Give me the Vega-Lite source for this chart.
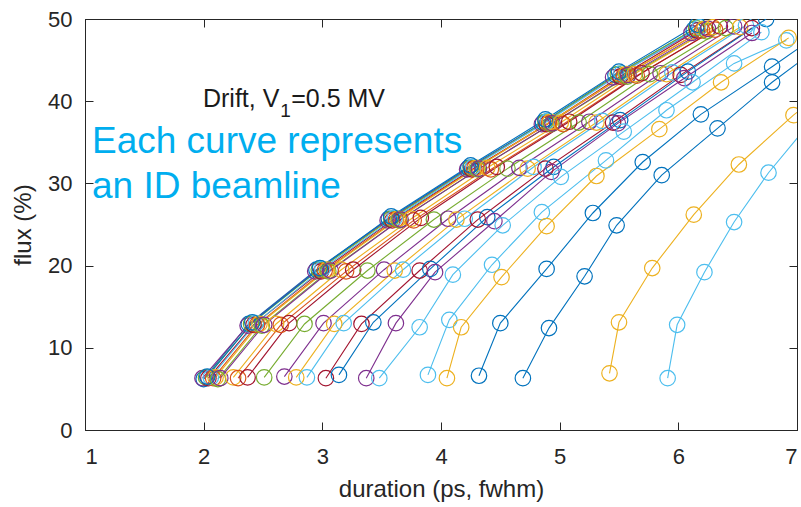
{
  "$schema": "https://vega.github.io/schema/vega-lite/v6.json",
  "width": 712,
  "height": 411,
  "autosize": {"type": "none"},
  "padding": {"left": 85, "top": 19, "right": 4, "bottom": 77},
  "background": "white",
  "config": {
    "font": "Liberation Sans",
    "view": {"stroke": "#262626", "strokeWidth": 1},
    "axis": {
      "grid": false,
      "domainColor": "#262626",
      "tickColor": "#262626",
      "labelColor": "#262626",
      "titleColor": "#262626",
      "labelFont": "Liberation Sans",
      "titleFont": "Liberation Sans",
      "labelFontSize": 22,
      "titleFontSize": 24,
      "titleFontWeight": "normal",
      "tickSize": -8,
      "tickWidth": 1
    }
  },
  "datasets": {
    "curves": [
      {"b":1,"d":2.00,"f":6.2},{"b":1,"d":2.38,"f":12.9},{"b":1,"d":2.95,"f":19.5},{"b":1,"d":3.56,"f":25.7},{"b":1,"d":4.23,"f":31.9},{"b":1,"d":4.86,"f":37.4},{"b":1,"d":5.47,"f":43.2},{"b":1,"d":6.13,"f":48.7},
      {"b":2,"d":1.99,"f":6.3},{"b":2,"d":2.37,"f":12.7},{"b":2,"d":2.94,"f":19.3},{"b":2,"d":3.55,"f":25.5},{"b":2,"d":4.22,"f":31.7},{"b":2,"d":4.85,"f":37.2},{"b":2,"d":5.45,"f":42.9},{"b":2,"d":6.11,"f":48.3},
      {"b":3,"d":2.02,"f":6.4},{"b":3,"d":2.40,"f":12.9},{"b":3,"d":2.97,"f":19.5},{"b":3,"d":3.58,"f":25.7},{"b":3,"d":4.25,"f":31.9},{"b":3,"d":4.88,"f":37.5},{"b":3,"d":5.49,"f":43.3},{"b":3,"d":6.15,"f":48.9},
      {"b":4,"d":2.04,"f":6.3},{"b":4,"d":2.42,"f":12.8},{"b":4,"d":2.99,"f":19.3},{"b":4,"d":3.59,"f":25.5},{"b":4,"d":4.26,"f":31.7},{"b":4,"d":4.89,"f":37.2},{"b":4,"d":5.51,"f":43.0},{"b":4,"d":6.16,"f":48.6},
      {"b":5,"d":2.06,"f":6.4},{"b":5,"d":2.44,"f":13.0},{"b":5,"d":3.00,"f":19.6},{"b":5,"d":3.61,"f":25.8},{"b":5,"d":4.27,"f":32.0},{"b":5,"d":4.90,"f":37.6},{"b":5,"d":5.52,"f":43.4},{"b":5,"d":6.18,"f":49.0},
      {"b":6,"d":2.08,"f":6.3},{"b":6,"d":2.45,"f":12.8},{"b":6,"d":3.02,"f":19.4},{"b":6,"d":3.62,"f":25.6},{"b":6,"d":4.28,"f":31.8},{"b":6,"d":4.91,"f":37.3},{"b":6,"d":5.54,"f":43.1},{"b":6,"d":6.20,"f":48.6},
      {"b":7,"d":2.10,"f":6.4},{"b":7,"d":2.47,"f":12.9},{"b":7,"d":3.04,"f":19.5},{"b":7,"d":3.64,"f":25.7},{"b":7,"d":4.30,"f":31.9},{"b":7,"d":4.92,"f":37.5},{"b":7,"d":5.56,"f":43.3},{"b":7,"d":6.22,"f":48.8},
      {"b":8,"d":2.03,"f":6.5},{"b":8,"d":2.41,"f":13.1},{"b":8,"d":2.98,"f":19.7},{"b":8,"d":3.58,"f":26.0},{"b":8,"d":4.25,"f":32.2},{"b":8,"d":4.88,"f":37.8},{"b":8,"d":5.50,"f":43.6},{"b":8,"d":6.16,"f":49.3},
      {"b":9,"d":2.12,"f":6.2},{"b":9,"d":2.49,"f":12.7},{"b":9,"d":3.05,"f":19.3},{"b":9,"d":3.65,"f":25.5},{"b":9,"d":4.31,"f":31.7},{"b":9,"d":4.93,"f":37.2},{"b":9,"d":5.57,"f":43.0},{"b":9,"d":6.24,"f":48.5},
      {"b":10,"d":2.14,"f":6.3},{"b":10,"d":2.51,"f":12.8},{"b":10,"d":3.07,"f":19.4},{"b":10,"d":3.66,"f":25.6},{"b":10,"d":4.32,"f":31.8},{"b":10,"d":4.94,"f":37.3},{"b":10,"d":5.58,"f":43.2},{"b":10,"d":6.25,"f":48.8},
      {"b":11,"d":2.25,"f":6.4},{"b":11,"d":2.61,"f":12.9},{"b":11,"d":3.16,"f":19.5},{"b":11,"d":3.75,"f":25.7},{"b":11,"d":4.39,"f":31.9},{"b":11,"d":5.01,"f":37.4},{"b":11,"d":5.63,"f":43.3},{"b":11,"d":6.29,"f":49.0},
      {"b":12,"d":2.29,"f":6.3},{"b":12,"d":2.65,"f":12.8},{"b":12,"d":3.20,"f":19.3},{"b":12,"d":3.77,"f":25.5},{"b":12,"d":4.42,"f":31.7},{"b":12,"d":5.03,"f":37.2},{"b":12,"d":5.65,"f":43.1},{"b":12,"d":6.31,"f":48.7},
      {"b":13,"d":2.37,"f":6.4},{"b":13,"d":2.72,"f":13.0},{"b":13,"d":3.26,"f":19.5},{"b":13,"d":3.83,"f":25.8},{"b":13,"d":4.47,"f":32.0},{"b":13,"d":5.08,"f":37.5},{"b":13,"d":5.69,"f":43.4},{"b":13,"d":6.35,"f":49.1},
      {"b":14,"d":2.51,"f":6.4},{"b":14,"d":2.85,"f":12.9},{"b":14,"d":3.38,"f":19.4},{"b":14,"d":3.94,"f":25.6},{"b":14,"d":4.56,"f":31.8},{"b":14,"d":5.16,"f":37.4},{"b":14,"d":5.76,"f":43.3},{"b":14,"d":6.40,"f":48.9},
      {"b":15,"d":2.68,"f":6.5},{"b":15,"d":3.01,"f":13.0},{"b":15,"d":3.52,"f":19.5},{"b":15,"d":4.06,"f":25.7},{"b":15,"d":4.66,"f":31.9},{"b":15,"d":5.25,"f":37.5},{"b":15,"d":5.85,"f":43.4},{"b":15,"d":6.47,"f":49.1},
      {"b":16,"d":2.78,"f":6.4},{"b":16,"d":3.10,"f":12.9},{"b":16,"d":3.61,"f":19.4},{"b":16,"d":4.13,"f":25.6},{"b":16,"d":4.73,"f":31.8},{"b":16,"d":5.31,"f":37.4},{"b":16,"d":5.90,"f":43.3},{"b":16,"d":6.52,"f":49.0},
      {"b":17,"d":2.87,"f":6.4},{"b":17,"d":3.18,"f":13.0},{"b":17,"d":3.68,"f":19.5},{"b":17,"d":4.20,"f":25.7},{"b":17,"d":4.78,"f":32.0},{"b":17,"d":5.36,"f":37.6},{"b":17,"d":5.95,"f":43.5},{"b":17,"d":6.57,"f":49.2},
      {"b":18,"d":3.03,"f":6.3},{"b":18,"d":3.33,"f":12.9},{"b":18,"d":3.82,"f":19.4},{"b":18,"d":4.31,"f":25.6},{"b":18,"d":4.88,"f":31.8},{"b":18,"d":5.45,"f":37.4},{"b":18,"d":6.02,"f":43.2},{"b":18,"d":6.62,"f":48.9},
      {"b":19,"d":3.14,"f":6.7},{"b":19,"d":3.43,"f":13.1},{"b":19,"d":3.91,"f":19.6},{"b":19,"d":4.39,"f":25.9},{"b":19,"d":4.95,"f":32.0},{"b":19,"d":5.51,"f":37.7},{"b":19,"d":6.08,"f":43.6},{"b":19,"d":6.74,"f":50.0},
      {"b":20,"d":3.37,"f":6.3},{"b":20,"d":3.62,"f":13.0},{"b":20,"d":3.95,"f":19.2},{"b":20,"d":4.45,"f":25.4},{"b":20,"d":4.93,"f":31.4},{"b":20,"d":5.49,"f":37.3},{"b":20,"d":6.05,"f":42.8},{"b":20,"d":6.62,"f":48.3},
      {"b":21,"d":3.48,"f":6.3},{"b":21,"d":3.82,"f":12.5},{"b":21,"d":4.10,"f":18.9},{"b":21,"d":4.52,"f":24.9},{"b":21,"d":5.01,"f":30.8},{"b":21,"d":5.54,"f":36.3},{"b":21,"d":6.12,"f":42.3},{"b":21,"d":6.70,"f":48.4},
      {"b":22,"d":3.89,"f":6.7},{"b":22,"d":4.07,"f":13.4},{"b":22,"d":4.43,"f":20.1},{"b":22,"d":4.85,"f":26.5},{"b":22,"d":5.39,"f":32.8},{"b":22,"d":5.90,"f":38.9},{"b":22,"d":6.47,"f":44.6},{"b":22,"d":6.91,"f":47.4},
      {"b":23,"d":4.05,"f":6.3},{"b":23,"d":4.17,"f":12.5},{"b":23,"d":4.51,"f":18.6},{"b":23,"d":4.89,"f":24.8},{"b":23,"d":5.31,"f":30.9},{"b":23,"d":5.84,"f":36.6},{"b":23,"d":6.36,"f":42.3},{"b":23,"d":6.93,"f":47.7},
      {"b":24,"d":4.32,"f":6.6},{"b":24,"d":4.50,"f":13.0},{"b":24,"d":4.89,"f":19.6},{"b":24,"d":5.28,"f":26.4},{"b":24,"d":5.70,"f":32.6},{"b":24,"d":6.19,"f":38.4},{"b":24,"d":6.79,"f":44.2},{"b":24,"d":7.35,"f":49.8},
      {"b":25,"d":4.69,"f":6.3},{"b":25,"d":4.91,"f":12.4},{"b":25,"d":5.21,"f":18.7},{"b":25,"d":5.48,"f":24.9},{"b":25,"d":5.86,"f":31.0},{"b":25,"d":6.33,"f":36.7},{"b":25,"d":6.79,"f":42.3},{"b":25,"d":7.30,"f":47.8},
      {"b":26,"d":5.42,"f":6.9},{"b":26,"d":5.50,"f":13.1},{"b":26,"d":5.78,"f":19.7},{"b":26,"d":6.13,"f":26.2},{"b":26,"d":6.51,"f":32.3},{"b":26,"d":6.97,"f":38.3},{"b":26,"d":7.50,"f":44.3},
      {"b":27,"d":5.91,"f":6.3},{"b":27,"d":5.99,"f":12.8},{"b":27,"d":6.22,"f":19.2},{"b":27,"d":6.47,"f":25.3},{"b":27,"d":6.76,"f":31.3},{"b":27,"d":7.10,"f":37.2}
    ]
  },
  "resolve": {"axis": {"x": "independent", "y": "independent"}},
  "layer": [
    {
      "data": {"name": "curves"},
      "mark": {"type": "line", "strokeWidth": 1.1, "clip": true},
      "encoding": {
        "x": {"field": "d", "type": "quantitative",
              "scale": {"domain": [1, 7], "nice": false, "zero": false},
              "axis": {"orient": "bottom", "values": [1, 2, 3, 4, 5, 6, 7], "title": "duration (ps, fwhm)", "labelPadding": 24, "titlePadding": 10}},
        "y": {"field": "f", "type": "quantitative",
              "scale": {"domain": [0, 50], "nice": false},
              "axis": {"orient": "left", "values": [0, 10, 20, 30, 40, 50], "title": "flux (%)", "labelPadding": 21, "titlePadding": 12}},
        "color": {"field": "b", "type": "nominal", "legend": null,
                  "scale": {"domain": [1,2,3,4,5,6,7,8,9,10,11,12,13,14,15,16,17,18,19,20,21,22,23,24,25,26,27],
                            "range": ["#0072BD","#7E2F8E","#77AC30","#A2142F","#4DBEEE","#D95319","#EDB120","#0072BD","#77AC30","#7E2F8E","#EDB120","#D95319","#A2142F","#77AC30","#7E2F8E","#EDB120","#4DBEEE","#A2142F","#0072BD","#7E2F8E","#4DBEEE","#4DBEEE","#EDB120","#0072BD","#0072BD","#EDB120","#4DBEEE"]}},
        "detail": {"field": "b"}
      }
    },
    {
      "data": {"name": "curves"},
      "mark": {"type": "point", "shape": "circle", "filled": false, "size": 240, "strokeWidth": 1.2, "opacity": 1, "clip": true},
      "encoding": {
        "x": {"field": "d", "type": "quantitative",
              "axis": {"orient": "top", "values": [1, 2, 3, 4, 5, 6, 7], "labels": false, "title": null}},
        "y": {"field": "f", "type": "quantitative",
              "axis": {"orient": "right", "values": [0, 10, 20, 30, 40, 50], "labels": false, "title": null}},
        "color": {"field": "b", "type": "nominal", "legend": null}
      }
    },
    {
      "data": {"values": [{"x": 2.638, "y": 39.29, "t": "Drift, V"}]},
      "mark": {"type": "text", "align": "right", "baseline": "alphabetic", "fontSize": 25, "font": "Liberation Sans", "color": "#1a1a1a"},
      "encoding": {
        "x": {"field": "x", "type": "quantitative", "axis": null},
        "y": {"field": "y", "type": "quantitative", "axis": null},
        "text": {"field": "t"}
      }
    },
    {
      "data": {"values": [{"x": 2.645, "y": 38.08, "t": "1"}]},
      "mark": {"type": "text", "align": "left", "baseline": "alphabetic", "fontSize": 19, "font": "Liberation Sans", "color": "#1a1a1a"},
      "encoding": {
        "x": {"field": "x", "type": "quantitative", "axis": null},
        "y": {"field": "y", "type": "quantitative", "axis": null},
        "text": {"field": "t"}
      }
    },
    {
      "data": {"values": [{"x": 2.738, "y": 39.29, "t": "=0.5 MV"}]},
      "mark": {"type": "text", "align": "left", "baseline": "alphabetic", "fontSize": 25, "font": "Liberation Sans", "color": "#1a1a1a"},
      "encoding": {
        "x": {"field": "x", "type": "quantitative", "axis": null},
        "y": {"field": "y", "type": "quantitative", "axis": null},
        "text": {"field": "t"}
      }
    },
    {
      "data": {"values": [{"x": 1.059, "y": 33.7, "t": "Each curve represents"}, {"x": 1.059, "y": 28.22, "t": "an ID beamline"}]},
      "mark": {"type": "text", "align": "left", "baseline": "alphabetic", "fontSize": 37, "font": "Liberation Sans", "color": "#00AEEF"},
      "encoding": {
        "x": {"field": "x", "type": "quantitative", "axis": null},
        "y": {"field": "y", "type": "quantitative", "axis": null},
        "text": {"field": "t"}
      }
    }
  ]
}
